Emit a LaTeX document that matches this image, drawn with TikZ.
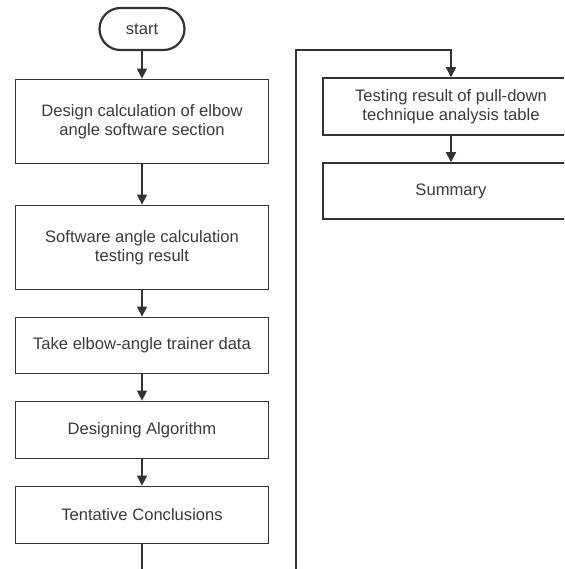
\documentclass[tikz,border=0pt]{standalone}
\usepackage{fontspec}
\setsansfont{Liberation Sans}
\usetikzlibrary{arrows.meta,positioning}
\definecolor{linegray}{HTML}{333333}
\definecolor{textgray}{HTML}{3A3A3A}
\tikzset{
  flowterm/.style = {
    rectangle,
    draw=linegray,
    line width=2.2pt,
    rounded corners=21pt,
    text=textgray,
    font=\sffamily\fontsize{16.6}{19}\selectfont,
    minimum width=85pt,
    minimum height=42pt
  },
  flowbox/.style = {
    rectangle,
    draw=linegray,
    line width=1.5pt,
    align=center,
    text=textgray,
    font=\sffamily\fontsize{16.6}{19}\selectfont,
    minimum width=253pt,
    minimum height=57pt
  },
  flowline/.style = {
    draw=linegray,
    line width=1.5pt
  },
  flowarrow/.style = {
    -{Triangle[length=10pt,width=10pt]},
    flowline
  }
}

\begin{document}
\begin{tikzpicture}[node distance=26.5pt]
    \clip (0,0) rectangle (564pt,-569pt);
    \node[flowterm] (start) at (142pt,-29pt) {start};
    \node[flowbox, minimum height=84pt, below=27.5pt of start] (design) {Design calculation of elbow\\angle software section};
    \node[flowbox, minimum height=84pt, below=40.5pt of design] (swtest) {Software angle calculation\\testing result};
    \node[flowbox, minimum height=56pt, below=of swtest] (trainer) {Take elbow-angle trainer data};
    \node[flowbox, below=of trainer] (algo) {Designing Algorithm};
    \node[flowbox, below=of algo] (concl) {Tentative Conclusions};
    \node[flowbox, minimum width=256pt] (pulltest) at (451pt,-106.5pt) {Testing result of pull-down\\technique analysis table};
    \node[flowbox, minimum width=256pt, minimum height=56pt, below=of pulltest] (summary) {Summary};
    \coordinate (leftcut) at (142pt,-575pt);
    \coordinate (rightcut) at (296pt,-575pt);
    \coordinate (rightturn) at (296pt,-50pt);
    \draw[flowarrow] (start) -- (design);
    \draw[flowarrow] (design) -- (swtest);
    \draw[flowarrow] (swtest) -- (trainer);
    \draw[flowarrow] (trainer) -- (algo);
    \draw[flowarrow] (algo) -- (concl);
    \draw[flowline] (concl) -- (leftcut);
    \draw[flowarrow] (rightcut) -- (rightturn) -| (pulltest.north);
    \draw[flowarrow] (pulltest) -- (summary);
\end{tikzpicture}
\end{document}
